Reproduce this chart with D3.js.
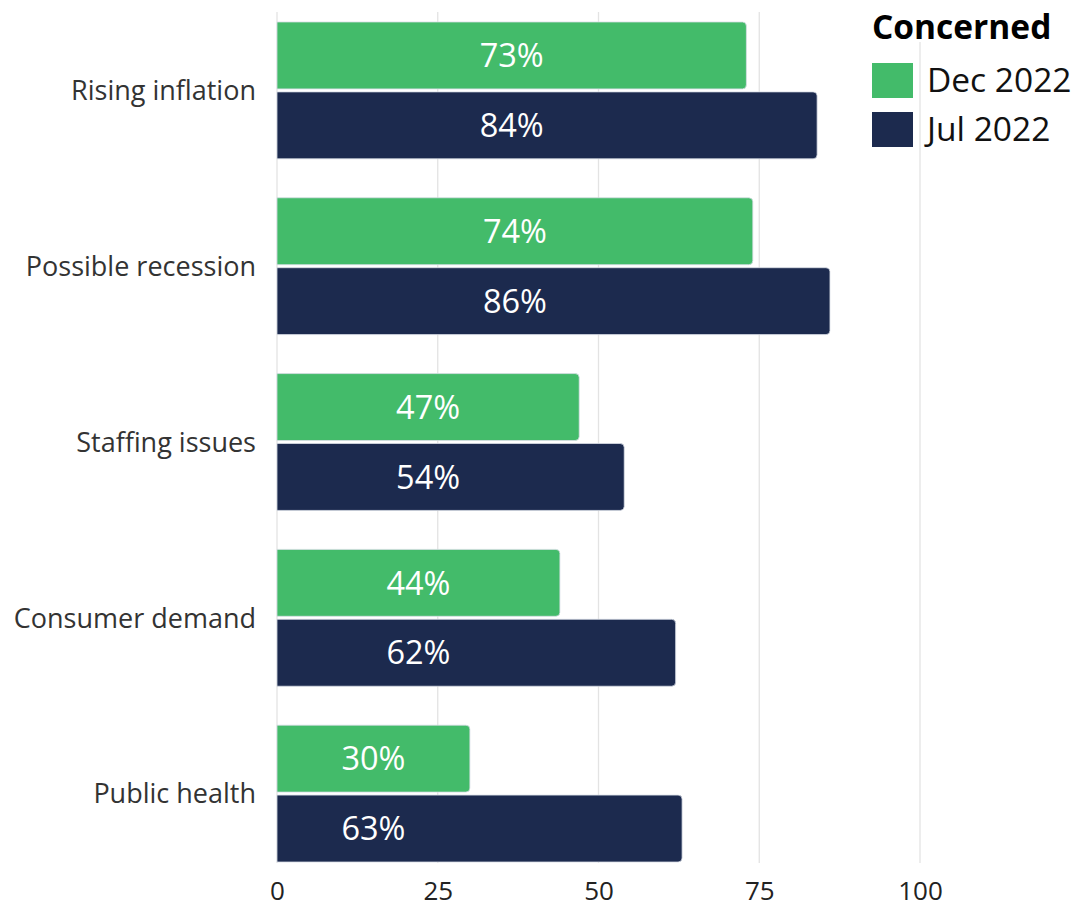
<!DOCTYPE html>
<html>
<head>
<meta charset="utf-8">
<script src="https://cdn.jsdelivr.net/npm/d3@7"></script>
<style>
	body { margin: 0; background: #fff; font-family: "Open Sans", sans-serif; }
</style>
</head>
<body>
<script>
	var categories = ["Rising inflation", "Possible recession", "Staffing issues", "Consumer demand", "Public health"];
	var seriesNames = ["Dec 2022", "Jul 2022"];
	var dec2022 = [73, 74, 47, 44, 30];
	var jul2022 = [84, 86, 54, 62, 63];
	var xTicks = [0, 25, 50, 75, 100];
	var legendTitle = "Concerned";
	var colors = ["#43bb6a", "#1c2a4e"];

	var width = 1071, height = 907;
	var svg = d3.select("body").append("svg")
		.attr("width", width)
		.attr("height", height);

	var x = d3.scaleLinear().domain([0, 100]).range([277, 920]);
	var y = d3.scaleBand().domain(categories).range([4.4, 879.6])
		.paddingInner(0.2216).paddingOuter(0.1);
	var ySub = d3.scaleBand().domain(seriesNames).range([0, y.bandwidth()])
		.paddingInner(0.043);

	var rows = categories.map(function (c, i) {
		return { cat: c, vals: [dec2022[i], jul2022[i]] };
	});

	// gridlines
	svg.append("g").selectAll("line")
		.data(xTicks)
		.enter().append("line")
		.attr("x1", function (d) { return x(d) })
		.attr("x2", function (d) { return x(d) })
		.attr("y1", 12)
		.attr("y2", 863)
		.style("stroke", "#e3e3e3")
		.style("stroke-width", 1.3);

	// bottom axis (labels only)
	var xAxis = d3.axisBottom(x).tickValues(xTicks).tickSize(0).tickPadding(0);
	var gx = svg.append("g").attr("transform", "translate(0,877)").call(xAxis);
	gx.select(".domain").remove();
	gx.selectAll("text")
		.style("font-family", "'Open Sans', sans-serif")
		.style("font-size", "26px")
		.style("fill", "#222")
		.attr("dy", "0.9em");

	// category labels
	var yAxis = d3.axisLeft(y).tickSize(0).tickPadding(21);
	var gy = svg.append("g").attr("transform", "translate(277,0)").call(yAxis);
	gy.select(".domain").remove();
	gy.selectAll("text")
		.style("font-family", "'Open Sans', sans-serif")
		.style("font-size", "27px")
		.style("fill", "#333")
		.attr("dy", "0.36em");

	function barPath(x0, x1, y0, h, r) {
		var w = x1 - x0;
		r = Math.min(r, w);
		return "M" + x0 + "," + y0 +
			"H" + (x1 - r) +
			"Q" + x1 + "," + y0 + " " + x1 + "," + (y0 + r) +
			"V" + (y0 + h - r) +
			"Q" + x1 + "," + (y0 + h) + " " + (x1 - r) + "," + (y0 + h) +
			"H" + x0 + "Z";
	}

	var groups = svg.append("g").selectAll("g")
		.data(rows)
		.enter().append("g")
		.attr("transform", function (d) { return "translate(0," + y(d.cat) + ")" });

	groups.selectAll("path")
		.data(function (d) { return d.vals.map(function (v, j) { return { v: v, s: seriesNames[j], j: j } }) })
		.enter().append("path")
		.attr("d", function (d) { return barPath(x(0), x(d.v), ySub(d.s), ySub.bandwidth(), 4) })
		.style("fill", function (d) { return colors[d.j] })
		.style("stroke", "#d8dde6")
		.style("stroke-width", 0.8);

	// value labels, both in a pair sit over the middle of the shorter bar
	groups.each(function (row) {
		var mid = d3.min(row.vals) / 2;
		d3.select(this).selectAll("text")
			.data(row.vals.map(function (v, j) { return { v: v, s: seriesNames[j] } }))
			.enter().append("text")
			.attr("x", x(mid))
			.attr("y", function (d) { return ySub(d.s) + ySub.bandwidth() / 2 })
			.attr("dy", "0.36em")
			.attr("text-anchor", "middle")
			.style("font-size", "32.5px")
			.style("fill", "#fff")
			.text(function (d) { return d.v + "%" });
	});

	// legend
	var legend = svg.append("g").attr("transform", "translate(872,0)");
	legend.append("rect")
		.attr("x", -2).attr("y", 4).attr("width", 195).attr("height", 38)
		.style("fill", "#fff");
	legend.append("text")
		.attr("x", 0).attr("y", 39)
		.style("font-size", "33.5px")
		.style("font-weight", "bold")
		.style("fill", "#000")
		.text(legendTitle);
	var items = legend.selectAll(".item")
		.data(seriesNames)
		.enter().append("g")
		.attr("class", "item")
		.attr("transform", function (d, i) { return "translate(0," + (63 + i * 49) + ")" });
	items.append("rect")
		.attr("width", 41).attr("height", 35)
		.style("fill", function (d, i) { return colors[i] });
	items.append("text")
		.attr("x", 55).attr("y", 29)
		.style("font-size", "33.5px")
		.style("fill", "#111")
		.text(function (d) { return d });
</script>
</body>
</html>
